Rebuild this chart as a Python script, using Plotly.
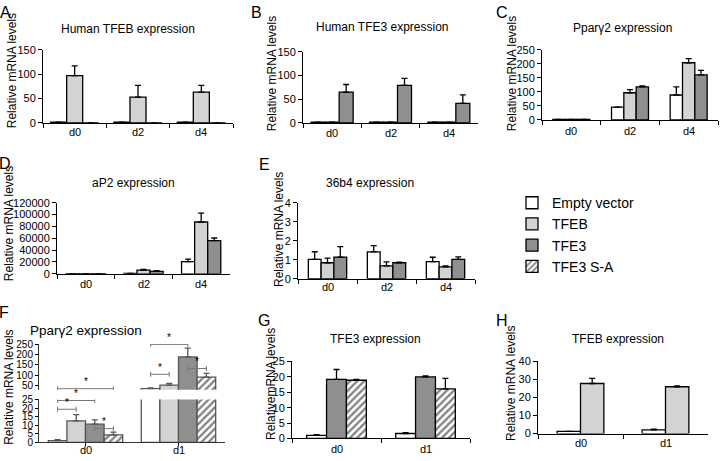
import plotly.graph_objects as go

# categories
days3 = ["d0", "d2", "d4"]
days2 = ["d0", "d1"]

# A: human TFEB expression (empty, TFEB, TFE3)
a_empty, a_empty_err = [1.5, 1.5, 1.5], [0, 0, 0]
a_tfeb, a_tfeb_err = [97, 53, 63], [20, 24, 14]
a_tfe3, a_tfe3_err = [0, 0, 0], [0, 0, 0]

# B: human TFE3 expression
b_empty, b_empty_err = [1.5, 1.5, 1.5], [0, 0, 0]
b_tfeb, b_tfeb_err = [1.5, 1.5, 1.5], [0, 0, 0]
b_tfe3, b_tfe3_err = [65, 79, 41], [16, 15, 18]

# C: Ppar-gamma2 expression
c_empty, c_empty_err = [2, 46, 89], [0, 0, 29]
c_tfeb, c_tfeb_err = [2, 97, 204], [0, 11, 15]
c_tfe3, c_tfe3_err = [2, 118, 161], [0, 3, 16]

# D: aP2 expression
d_empty, d_empty_err = [400, 700, 20500], [0, 0, 4500]
d_tfeb, d_tfeb_err = [400, 6200, 87500], [0, 1500, 15000]
d_tfe3, d_tfe3_err = [400, 4300, 56000], [0, 900, 4500]

# E: 36b4 expression
e_empty, e_empty_err = [1.02, 1.41, 0.9], [0.40, 0.33, 0.23]
e_tfeb, e_tfeb_err = [0.84, 0.68, 0.62], [0.24, 0.21, 0.05]
e_tfe3, e_tfe3_err = [1.14, 0.84, 1.02], [0.55, 0.03, 0.13]

# F: Ppar-gamma2 expression (empty, TFEB, TFE3, TFE3 S-A)
f_empty, f_empty_err = [1.0, 35], [0.5, 4]
f_tfeb, f_tfeb_err = [12.5, 52], [3.7, 9]
f_tfe3, f_tfe3_err = [10.6, 189], [2.5, 43]
f_sa, f_sa_err = [4.3, 91], [1.7, 18]
# significance brackets: (day, first series index, second series index, height, axis)
f_sig = [("d0", 0, 1, 19.3, "y7"), ("d0", 0, 2, 24.4, "y7"), ("d0", 0, 3, 35, "y8"),
         ("d0", 2, 3, 8, "y7"), ("d1", 0, 1, 105, "y8"), ("d1", 0, 2, 250, "y8"),
         ("d1", 0, 3, 306, "y8"), ("d1", 2, 3, 133, "y8")]

# G: TFE3 expression (empty, TFE3, TFE3 S-A)
g_empty, g_empty_err = [1.0, 1.6], [0.25, 0.3]
g_tfe3, g_tfe3_err = [19.2, 20.0], [3.2, 0.3]
g_sa, g_sa_err = [18.9, 16.1], [0.3, 3.4]

# H: TFEB expression (empty, TFEB)
h_empty, h_empty_err = [1.2, 2.0], [0, 0.4]
h_tfeb, h_tfeb_err = [27.8, 26.0], [2.8, 0.5]

W, H = 720, 461
FONT = "Arial, Liberation Sans, sans-serif"
COL = {"Empty vector": "white", "TFEB": "#d3d3d3", "TFE3": "#8f8f8f", "TFE3 S-A": "white"}
shown = set()


def px_x(a, b):
    return [a / W, b / W]


def px_y(bottom, top):
    return [1 - bottom / H, 1 - top / H]


def bar(xa, ya, cats, vals, errs, name, slot, nslots, fill, lc="black"):
    w = fill / nslots
    show = name not in shown
    shown.add(name)
    marker = dict(color=COL[name], line=dict(color=lc, width=1.3))
    if name == "TFE3 S-A":
        marker["pattern"] = dict(shape="/", fgcolor="black", bgcolor="white", size=5, solidity=0.45)
    return go.Bar(x=cats, y=vals, name=name, showlegend=show, xaxis=xa, yaxis=ya,
                  width=w, offset=-fill / 2 + slot * w, marker=marker,
                  error_y=dict(type="data", array=errs, arrayminus=[0] * len(errs),
                               symmetric=False, color=lc, thickness=1.3, width=3))


fig = go.Figure()
panels = [
    ("x", "y", days3, [("Empty vector", a_empty, a_empty_err), ("TFEB", a_tfeb, a_tfeb_err), ("TFE3", a_tfe3, a_tfe3_err)], 0.76),
    ("x2", "y2", days3, [("Empty vector", b_empty, b_empty_err), ("TFEB", b_tfeb, b_tfeb_err), ("TFE3", b_tfe3, b_tfe3_err)], 0.72),
    ("x3", "y3", days3, [("Empty vector", c_empty, c_empty_err), ("TFEB", c_tfeb, c_tfeb_err), ("TFE3", c_tfe3, c_tfe3_err)], 0.63),
    ("x4", "y4", days3, [("Empty vector", d_empty, d_empty_err), ("TFEB", d_tfeb, d_tfeb_err), ("TFE3", d_tfe3, d_tfe3_err)], 0.68),
    ("x5", "y5", days3, [("Empty vector", e_empty, e_empty_err), ("TFEB", e_tfeb, e_tfeb_err), ("TFE3", e_tfe3, e_tfe3_err)], 0.65),
    ("x6", "y6", days2, [("Empty vector", g_empty, g_empty_err), ("TFE3", g_tfe3, g_tfe3_err), ("TFE3 S-A", g_sa, g_sa_err)], 0.67),
    ("x9", "y9", days2, [("Empty vector", h_empty, h_empty_err), ("TFEB", h_tfeb, h_tfeb_err)], 0.55),
]
for xa, ya, cats, ser, fill in panels:
    for i, (name, v, e) in enumerate(ser):
        fig.add_trace(bar(xa, ya, cats, v, e, name, i, len(ser), fill))

f_series = [("Empty vector", f_empty, f_empty_err), ("TFEB", f_tfeb, f_tfeb_err),
            ("TFE3", f_tfe3, f_tfe3_err), ("TFE3 S-A", f_sa, f_sa_err)]
for ya in ["y7", "y8"]:
    for i, (name, v, e) in enumerate(f_series):
        fig.add_trace(bar("x7", ya, days2, v, e, name, i, 4, 0.8, lc="#555555"))

# significance brackets in panel F
shapes = []
annos = []
for day, i, j, hgt, ya in f_sig:
    c = days2.index(day)
    x0 = c - 0.4 + 0.2 * i + 0.1
    x1 = c - 0.4 + 0.2 * j + 0.1
    lc = dict(color="#777777", width=1)
    shapes.append(dict(type="line", xref="x7", yref=ya, x0=x0, x1=x1, y0=hgt, y1=hgt, line=lc))
    for xe in (x0, x1):
        shapes.append(dict(type="line", xref="x7", yref=ya, ysizemode="pixel", yanchor=hgt,
                           x0=xe, x1=xe, y0=-2.5, y1=2.5, line=lc))
    annos.append(dict(x=(x0 + x1) / 2, y=hgt, xref="x7", yref=ya, text="*", showarrow=False,
                      yshift=7, font=dict(family=FONT, size=10, color="black")))

# axes: (name, x px, y px (bottom, top), range, dtick, categories, label offset px)
axes = [
    ("", (43, 233), (120, 45), [0, 150], 50, days3, 9),
    ("2", (303, 478), (120, 47), [0, 150], 50, days3, 10),
    ("3", (542, 718), (117, 45), [0, 250], 50, days3, 11),
    ("4", (57, 230), (275, 202), [0, 120000], 20000, days3, 10),
    ("5", (298, 475), (280, 202), [0, 4], 1, days3, 9),
    ("6", (292, 470), (444, 365), [0, 25], 5, days2, 11),
    ("9", (538, 708), (439, 365), [0, 40], 10, days2, 10),
    ("7", (39, 225), (448, 404), [0, 25], 5, days2, 8),
]
ax_common = dict(showline=True, linecolor="black", linewidth=1, showgrid=False, zeroline=False,
                 ticks="outside", ticklen=4, tickcolor="black",
                 tickfont=dict(family=FONT, size=11, color="black"))
lay = {}
for n, xr, yr, rng, dt, cats, off in axes:
    lay["xaxis" + n] = dict(ax_common, domain=px_x(*xr), anchor="y" + n, type="category",
                            range=[-0.5, len(cats) - 0.5], tickson="boundaries",
                            showticklabels=False)
    lay["yaxis" + n] = dict(ax_common, domain=px_y(*yr), anchor="x" + n, range=rng, dtick=dt,
                            tickformat="d")
    # category labels placed close under the axis line, as in the original figure
    for c in cats:
        annos.append(dict(text=c, x=c, xref="x" + n if n else "x", y=1 - (yr[0] + off) / H,
                          yref="paper", showarrow=False, xanchor="center", yanchor="middle",
                          font=dict(family=FONT, size=11, color="black")))
f_font = dict(family=FONT, size=10, color="black")
lay["xaxis7"].update(linecolor="#333333", ticklen=3, tickson="labels")
lay["yaxis7"].update(linecolor="#333333", ticklen=3, tickfont=f_font)
lay["yaxis8"] = dict(ax_common, domain=px_y(394, 347), anchor="x7", range=[30, 252],
                     tickvals=[50, 100, 150, 200, 250], linecolor="#333333", ticklen=3, tickfont=f_font)

# titles, y-axis titles, panel letters
texts = [
    ("Human TFEB expression", 128, 24, 12), ("Human TFE3 expression", 382, 22, 12),
    ("Pparγ2 expression", 622, 23, 12), ("aP2 expression", 133, 182, 12),
    ("36b4 expression", 370, 182, 12), ("Pparγ2 expression", 86, 333, 13.5),
    ("TFE3 expression", 375, 342, 12), ("TFEB expression", 618, 342, 12),
]
for t, x, y, s in texts:
    annos.append(dict(text=t, x=x / W, y=1 - y / H, xref="paper", yref="paper", showarrow=False,
                      xanchor="center", yanchor="middle", font=dict(family=FONT, size=s, color="black")))
ytitles = [("Relative mRNA levels", 12, 67), ("Relative mRNA levels", 272, 70),
           ("Relative mRNA levels", 512, 70), ("Relative mRNA levels", 9, 224),
           ("Relative mRNA levels", 279, 230), ("Relative mRNA levels", 9, 392),
           ("RelativemRNA levels", 271, 388), ("Relative mRNA levels", 511, 388)]
for t, x, y in ytitles:
    annos.append(dict(text=t, x=x / W, y=1 - y / H, xref="paper", yref="paper", showarrow=False,
                      textangle=-90, xanchor="center", yanchor="middle",
                      font=dict(family=FONT, size=12, color="black")))
letters = [("A", 5, 7), ("B", 256, 7), ("C", 502, 7), ("D", 5, 162), ("E", 264, 163),
           ("F", 4, 315), ("G", 264, 323), ("H", 502, 323)]
for t, x, y in letters:
    annos.append(dict(text=t, x=x / W, y=1 - y / H, xref="paper", yref="paper", showarrow=False,
                      xanchor="center", yanchor="middle", font=dict(family=FONT, size=16, color="black")))

fig.update_layout(
    width=W, height=H, margin=dict(l=0, r=0, t=0, b=0), paper_bgcolor="white",
    plot_bgcolor="rgba(0,0,0,0)", barmode="overlay", shapes=shapes, annotations=annos,
    showlegend=True,
    legend=dict(x=512 / W, y=1 - 186 / H, xanchor="left", yanchor="top",
                font=dict(family=FONT, size=14, color="black"), tracegroupgap=0,
                bgcolor="rgba(0,0,0,0)"),
    **lay,
)
# the page body has a default 8px margin; remove it so the figure fills the window
fig.write_html("out.html", config={"displayModeBar": False},
               post_script="document.body.style.margin = '0';")
